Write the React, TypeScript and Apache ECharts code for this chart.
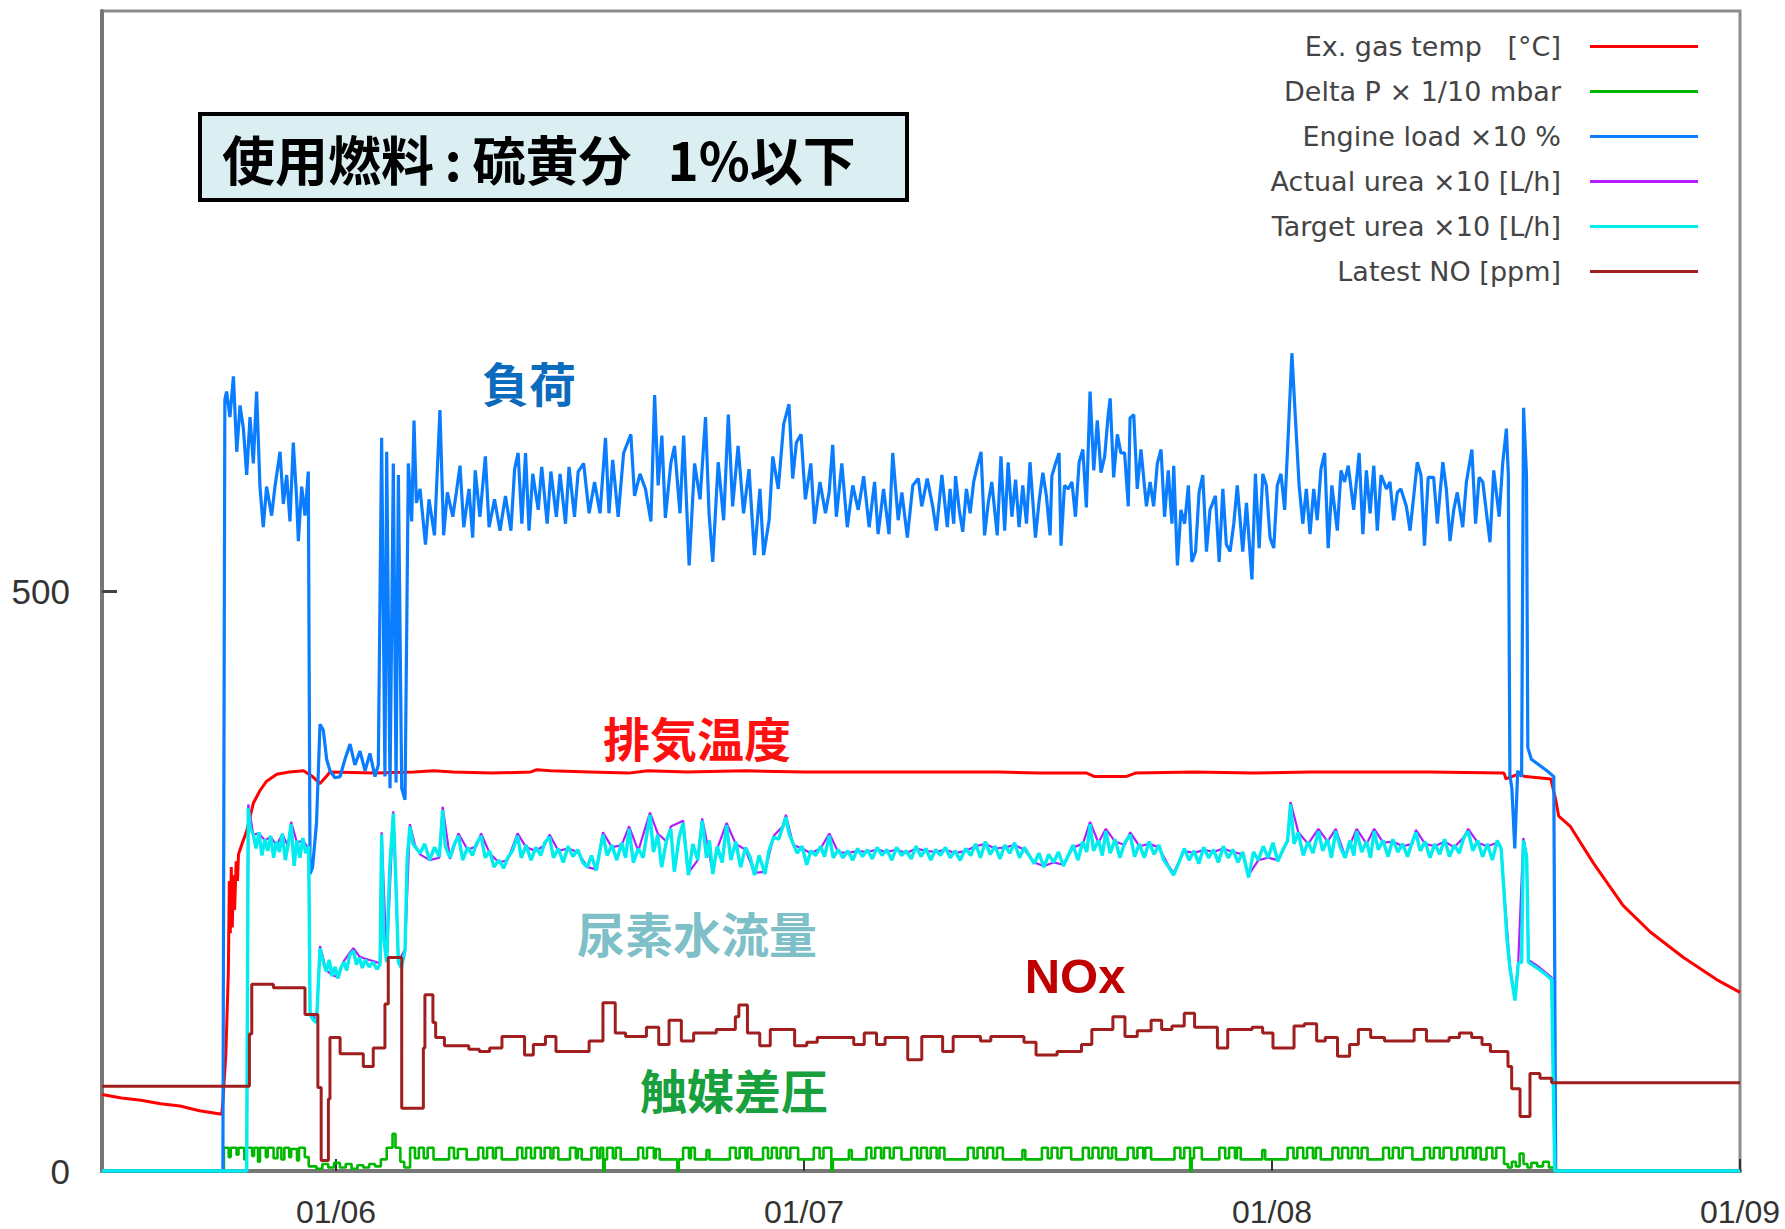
import React, { useEffect, useRef } from 'react';
import * as echarts from 'echarts';

// hours since 01/05 12:00
const xTickHours = [12, 36, 60, 84];
const xTickLabels = ['01/06', '01/07', '01/08', '01/09'];
const yLabelValues = [0, 500];
const yTickValues = [500];

const seriesNames = [
  'Ex. gas temp\u00a0\u00a0\u00a0[°C]',
  'Delta P\u00a0×\u00a01/10 mbar',
  'Engine load\u00a0×10\u00a0%',
  'Actual urea\u00a0×10 [L/h]',
  'Target urea\u00a0×10 [L/h]',
  'Latest NO [ppm]',
];
const seriesColors = ['#ff0000', '#00b800', '#0a7dff', '#b41cff', '#00ecef', '#a01e1e'];

const exGasTemp = [
  [0, 66], [1, 63], [2, 61], [3, 58], [4, 56], [5, 52], [6.14, 49], [6.2, 60], [6.35, 100], [6.48, 172],
  [6.53, 250], [6.58, 205], [6.63, 262], [6.68, 210], [6.74, 255], [6.8, 225], [6.88, 267], [6.95, 250],
  [7.0, 273], [7.2, 283], [7.42, 293], [7.6, 306], [7.76, 317], [8.1, 328], [8.44, 336], [8.96, 342],
  [9.6, 344], [10.33, 345], [10.8, 340], [11.18, 334], [11.5, 340], [11.69, 344], [14, 343], [16, 344],
  [17, 345], [18, 344], [20, 343], [22, 344], [22.3, 346], [23, 345], [25, 344], [27, 343], [28, 345],
  [30, 344], [33, 345], [36, 344], [40, 344], [43, 344], [46, 344], [48, 343], [50.5, 343], [50.9, 340],
  [52.5, 340], [53.0, 343], [56, 344], [59, 343], [62, 344], [65, 344], [68, 344], [71.9, 343], [72.0, 338],
  [72.3, 340], [72.6, 342], [73.0, 340], [74.3, 338], [74.55, 320], [74.7, 306], [75.3, 297], [76.5, 265],
  [78.0, 229], [79.4, 206], [81.1, 184], [82.8, 165], [84, 154],
];

const deltaP = [
  [0, 0], [6.2, 0], [6.25, 20], [6.5, 12], [6.6, 20], [6.9, 14], [7.0, 20], [7.3, 10], [7.4, 20], [7.7, 13],
  [7.8, 20], [8.0, 8], [8.1, 20], [8.4, 12], [8.5, 20], [8.8, 11], [9.0, 20], [9.2, 10], [9.35, 20], [9.6, 12],
  [9.7, 19], [10.0, 9], [10.1, 20], [10.4, 12], [10.6, 4], [11.0, 2], [11.3, 6], [11.6, 3], [11.9, 7], [12.2, 3],
  [12.5, 6], [12.8, 2], [13.1, 5], [13.4, 3], [13.7, 6], [14.0, 4], [14.3, 10], [14.6, 20], [14.9, 32], [15.05, 20],
  [15.3, 8], [15.5, 3], [15.8, 20], [16.05, 11], [16.25, 20], [16.5, 11], [16.7, 20], [17.0, 10],
  [17.8, 20], [18.05, 11], [18.25, 19], [18.7, 10],
  [19.3, 20], [19.55, 11], [19.75, 20], [20.05, 11], [20.2, 20], [20.5, 10],
  [21.3, 20], [21.55, 11], [21.75, 20], [22.0, 11], [22.2, 20], [22.5, 11], [22.7, 20], [23.0, 11], [23.15, 20], [23.4, 10],
  [24.0, 20], [24.3, 11], [24.4, 19], [24.6, 10],
  [25.1, 20], [25.4, 11], [25.55, 20], [25.7, 0], [25.78, 10], [25.9, 20], [26.2, 11], [26.35, 20], [26.6, 10],
  [27.5, 20], [27.75, 11], [27.95, 20], [28.3, 11], [28.4, 19], [28.6, 10],
  [29.5, 0], [29.58, 10], [29.8, 20], [30.1, 11], [30.2, 20], [30.4, 10],
  [31.0, 18], [31.15, 10],
  [32.2, 20], [32.5, 11], [32.7, 20], [33.0, 11], [33.1, 20], [33.3, 10],
  [33.9, 20], [34.15, 11], [34.35, 20], [34.6, 11], [34.8, 20], [35.1, 11], [35.3, 20], [35.7, 10],
  [36.5, 20], [36.8, 11], [37.0, 20], [37.4, 0], [37.48, 10],
  [38.3, 18], [38.45, 10],
  [39.2, 20], [39.45, 11], [39.65, 20], [39.95, 11], [40.1, 20], [40.4, 11], [40.6, 20], [41.0, 10],
  [41.5, 20], [41.8, 11], [42.0, 20], [42.3, 11], [42.5, 20], [42.8, 11], [42.95, 20], [43.2, 10],
  [44.4, 20], [44.7, 11], [44.9, 20], [45.2, 11], [45.4, 20], [45.7, 11], [45.9, 20], [46.2, 10],
  [47.2, 18], [47.35, 10],
  [48.2, 20], [48.5, 11], [48.7, 20], [49.0, 11], [49.2, 20], [49.7, 10],
  [50.3, 20], [50.6, 11], [50.8, 20], [51.1, 11], [51.3, 20], [51.6, 11], [51.8, 20], [52.0, 10],
  [52.6, 20], [52.9, 11], [53.1, 20], [53.4, 11], [53.5, 20], [53.8, 10],
  [55.0, 20], [55.3, 11], [55.5, 20], [55.8, 0], [55.88, 11], [56.0, 20], [56.4, 10],
  [57.3, 20], [57.6, 11], [57.8, 20], [58.1, 11], [58.2, 20], [58.4, 10],
  [59.5, 18], [59.65, 10],
  [60.8, 20], [61.1, 11], [61.3, 20], [61.6, 11], [61.8, 20], [62.1, 11], [62.25, 20], [62.5, 10],
  [63.1, 20], [63.4, 11], [63.6, 20], [63.9, 11], [64.1, 20], [64.4, 11], [64.6, 20], [64.9, 10],
  [65.7, 20], [66.0, 11], [66.2, 20], [66.5, 11], [66.7, 20], [67.2, 10],
  [67.8, 20], [68.1, 11], [68.3, 20], [68.6, 11], [68.8, 20], [69.2, 10],
  [69.5, 20], [69.8, 11], [70.0, 20], [70.3, 11], [70.45, 20], [70.7, 10],
  [71.0, 20], [71.3, 11], [71.5, 20], [71.9, 6],
  [72.1, 3], [72.3, 8], [72.5, 4], [72.7, 15], [72.9, 6], [73.1, 3], [73.3, 7], [73.6, 4], [73.9, 8], [74.2, 3],
  [74.5, 0], [84, 0],
];

const engineLoad = [
  [0, 0], [6.2, 0], [6.3, 665], [6.39, 672], [6.56, 650], [6.74, 685], [6.91, 620], [7.08, 660], [7.25, 640],
  [7.42, 600], [7.59, 650], [7.76, 610], [7.93, 672], [8.1, 590], [8.27, 555], [8.44, 590], [8.7, 565],
  [8.87, 590], [9.13, 620], [9.3, 575], [9.47, 600], [9.64, 560], [9.81, 628], [9.98, 580], [10.07, 543],
  [10.24, 590], [10.41, 565], [10.58, 603], [10.67, 256], [10.8, 262], [11.0, 300], [11.18, 385], [11.35, 380],
  [11.52, 355], [11.69, 345], [11.95, 339], [12.21, 340], [12.46, 355], [12.72, 368], [12.97, 350], [13.23, 362],
  [13.49, 345], [13.74, 360], [14.0, 340], [14.17, 350], [14.34, 632], [14.51, 340], [14.6, 620], [14.77, 330],
  [14.94, 610], [15.08, 335], [15.2, 600], [15.37, 330], [15.54, 320], [15.71, 610], [15.88, 560], [16.0, 647],
  [16.12, 576], [16.31, 588], [16.59, 540], [16.77, 579], [17.05, 548], [17.33, 656], [17.52, 548], [17.71, 585],
  [17.99, 564], [18.17, 585], [18.36, 608], [18.55, 555], [18.82, 588], [19.01, 546], [19.14, 604], [19.38, 564],
  [19.66, 616], [19.85, 555], [20.13, 579], [20.41, 552], [20.69, 582], [20.97, 552], [21.16, 605], [21.34, 619],
  [21.53, 558], [21.72, 619], [21.9, 552], [22.09, 601], [22.37, 570], [22.55, 607], [22.83, 558], [23.02, 603],
  [23.3, 564], [23.49, 601], [23.77, 558], [23.95, 607], [24.23, 564], [24.42, 603], [24.7, 610], [24.98, 567],
  [25.26, 594], [25.54, 567], [25.82, 632], [26.0, 567], [26.19, 613], [26.47, 564], [26.75, 619], [27.12, 635],
  [27.31, 582], [27.59, 601], [27.87, 588], [28.15, 560], [28.34, 669], [28.52, 591], [28.71, 634], [28.89, 563],
  [29.17, 610], [29.36, 625], [29.64, 567], [29.83, 634], [30.11, 522], [30.39, 610], [30.67, 579], [30.95, 650],
  [31.13, 567], [31.32, 525], [31.6, 611], [31.88, 561], [32.12, 652], [32.34, 573], [32.62, 625], [32.9, 567],
  [33.18, 605], [33.46, 531], [33.74, 588], [33.93, 531], [34.21, 561], [34.4, 616], [34.68, 588], [34.96, 644],
  [35.23, 661], [35.42, 597], [35.61, 628], [35.85, 635], [36.07, 579], [36.35, 610], [36.54, 558], [36.82, 594],
  [37.1, 567], [37.29, 585], [37.47, 626], [37.66, 564], [37.94, 610], [38.22, 555], [38.5, 591], [38.78, 570],
  [39.06, 599], [39.34, 555], [39.62, 594], [39.8, 549], [40.08, 588], [40.36, 549], [40.55, 619], [40.83, 561],
  [41.02, 585], [41.3, 546], [41.58, 591], [41.86, 597], [42.04, 573], [42.32, 597], [42.6, 573], [42.79, 552],
  [43.07, 600], [43.35, 555], [43.49, 588], [43.68, 558], [43.77, 599], [43.96, 570], [44.14, 551], [44.33, 588],
  [44.52, 567], [44.7, 594], [44.89, 608], [45.08, 620], [45.26, 548], [45.45, 576], [45.63, 594], [45.91, 548],
  [46.1, 616], [46.29, 552], [46.47, 611], [46.66, 564], [46.85, 596], [47.03, 555], [47.22, 591], [47.41, 558],
  [47.59, 611], [47.87, 546], [48.06, 578], [48.25, 602], [48.43, 582], [48.62, 548], [48.71, 599], [48.9, 610],
  [49.08, 619], [49.18, 539], [49.36, 591], [49.55, 588], [49.74, 594], [49.92, 564], [50.11, 611], [50.3, 622],
  [50.48, 572], [50.67, 672], [50.86, 604], [51.04, 647], [51.23, 602], [51.42, 616], [51.6, 652], [51.7, 666],
  [51.88, 598], [52.07, 635], [52.25, 619], [52.44, 619], [52.63, 573], [52.72, 649], [52.91, 652], [53.09, 588],
  [53.28, 622], [53.56, 573], [53.75, 594], [53.93, 573], [54.12, 610], [54.31, 622], [54.49, 564], [54.68, 604],
  [54.87, 558], [54.96, 608], [55.15, 522], [55.33, 570], [55.52, 558], [55.71, 591], [55.89, 525], [56.08, 534],
  [56.26, 585], [56.45, 600], [56.64, 534], [56.82, 570], [57.1, 582], [57.29, 525], [57.48, 588], [57.66, 540],
  [57.85, 534], [58.04, 558], [58.22, 591], [58.5, 534], [58.69, 576], [58.97, 510], [59.15, 601], [59.34, 537],
  [59.53, 601], [59.71, 591], [59.9, 546], [60.09, 537], [60.27, 591], [60.46, 601], [60.65, 570], [60.83, 634],
  [61.02, 705], [61.2, 649], [61.39, 591], [61.58, 558], [61.76, 588], [61.95, 549], [62.14, 588], [62.32, 561],
  [62.51, 605], [62.7, 619], [62.88, 537], [63.07, 591], [63.35, 552], [63.54, 604], [63.72, 594], [63.91, 608],
  [64.19, 570], [64.47, 619], [64.66, 549], [64.84, 604], [65.03, 567], [65.22, 608], [65.4, 552], [65.59, 600],
  [65.87, 588], [66.05, 594], [66.24, 561], [66.43, 585], [66.61, 588], [66.89, 573], [67.08, 552], [67.27, 582],
  [67.45, 611], [67.64, 600], [67.82, 539], [68.01, 598], [68.29, 598], [68.48, 558], [68.76, 611], [68.94, 588],
  [69.13, 543], [69.32, 570], [69.5, 585], [69.78, 555], [69.97, 594], [70.25, 622], [70.44, 558], [70.62, 598],
  [70.81, 594], [71.0, 567], [71.18, 542], [71.37, 604], [71.65, 564], [71.83, 610], [72.02, 640], [72.12, 600],
  [72.2, 341], [72.3, 330], [72.45, 278], [72.6, 345], [72.8, 340], [72.9, 658], [73.05, 600], [73.12, 365],
  [73.3, 355], [73.7, 350], [74.1, 345], [74.45, 340], [74.55, 0], [84, 0],
];

const actualUrea = [
  [0, 0], [7.42, 0], [7.5, 316], [7.76, 290], [8.05, 291], [8.35, 285], [8.65, 288], [8.95, 281], [9.25, 290],
  [9.55, 280], [9.7, 301], [10.0, 283], [10.3, 285], [10.6, 278], [10.67, 137], [11.0, 130], [11.18, 194],
  [11.5, 173], [11.8, 169], [12.1, 167], [12.4, 181], [12.7, 188], [12.89, 192], [13.2, 185], [13.5, 183],
  [13.9, 181], [14.26, 179], [14.34, 292], [14.6, 181], [14.94, 310], [15.2, 181], [15.54, 191], [15.79, 299],
  [16.05, 281], [16.31, 273], [16.8, 268], [17.3, 270], [17.47, 314], [17.85, 269], [18.28, 291], [18.75, 277],
  [19.2, 280], [19.44, 291], [19.88, 274], [20.35, 266], [20.8, 268], [21.31, 291], [21.75, 279], [22.25, 276],
  [22.7, 281], [22.95, 290], [23.4, 276], [23.9, 278], [24.4, 275], [24.89, 262], [25.35, 260], [25.69, 292],
  [26.15, 279], [26.65, 281], [27.03, 297], [27.5, 276], [28.1, 309], [28.5, 291], [28.95, 284], [29.17, 297],
  [29.8, 302], [30.07, 257], [30.55, 268], [30.78, 304], [31.32, 258], [31.55, 278], [32.03, 300], [32.5, 282],
  [33.0, 277], [33.46, 257], [34.0, 258], [34.45, 289], [34.9, 297], [35.07, 307], [35.45, 281], [35.9, 278],
  [36.35, 274], [36.85, 278], [37.3, 291], [37.75, 275], [38.25, 274], [38.75, 276], [39.25, 275], [39.75, 277],
  [40.25, 275], [40.75, 277], [41.25, 274], [41.75, 278], [42.25, 276], [42.75, 275], [43.25, 277], [43.75, 274],
  [44.3, 276], [44.8, 280], [45.3, 282], [45.8, 278], [46.3, 279], [46.8, 281], [47.3, 277], [47.8, 266],
  [48.3, 263], [48.8, 266], [49.3, 264], [49.8, 279], [50.3, 282], [50.67, 301], [51.1, 283], [51.48, 295],
  [51.95, 284], [52.45, 281], [52.73, 292], [53.2, 280], [53.7, 282], [54.2, 279], [54.7, 263], [54.95, 257],
  [55.5, 276], [56.0, 274], [56.5, 277], [57.0, 275], [57.5, 278], [58.0, 275], [58.5, 273], [58.8, 255],
  [59.3, 268], [59.8, 270], [60.3, 268], [60.8, 284], [60.95, 318], [61.35, 292], [61.85, 282], [62.38, 295],
  [62.85, 284], [63.27, 295], [63.75, 271], [64.34, 295], [64.85, 282], [65.24, 295], [65.7, 283], [66.2, 284],
  [66.7, 280], [67.2, 282], [67.38, 294], [67.85, 282], [68.35, 280], [68.85, 284], [69.35, 279], [69.85, 288],
  [70.06, 295], [70.55, 283], [71.05, 280], [71.55, 283], [71.75, 278], [71.9, 242], [72.2, 177], [72.46, 149],
  [72.63, 181], [72.89, 287], [73.06, 272], [73.15, 182], [73.6, 177], [74.34, 167], [74.5, 0], [84, 0],
];

const targetUrea = [
  [0, 0], [7.42, 0], [7.5, 313], [7.6, 296], [7.76, 290], [7.9, 278], [8.05, 292], [8.2, 272], [8.35, 286],
  [8.5, 276], [8.65, 289], [8.8, 270], [8.95, 284], [9.1, 275], [9.25, 291], [9.4, 268], [9.55, 282], [9.7, 299],
  [9.85, 263], [10.0, 285], [10.15, 270], [10.3, 287], [10.45, 274], [10.6, 280], [10.67, 135], [10.84, 130],
  [11.0, 128], [11.18, 192], [11.35, 180], [11.5, 172], [11.65, 182], [11.8, 168], [11.95, 176], [12.1, 166],
  [12.25, 175], [12.4, 180], [12.55, 173], [12.7, 186], [12.89, 190], [13.05, 178], [13.2, 184], [13.35, 175],
  [13.5, 182], [13.7, 176], [13.9, 180], [14.1, 174], [14.26, 178], [14.34, 290], [14.45, 200], [14.6, 180],
  [14.75, 260], [14.94, 308], [15.05, 260], [15.2, 180], [15.35, 175], [15.54, 190], [15.65, 270], [15.79, 297],
  [15.95, 282], [16.31, 274], [16.55, 282], [16.8, 268], [17.05, 279], [17.3, 271], [17.47, 311], [17.6, 280],
  [17.85, 270], [18.05, 281], [18.28, 289], [18.5, 268], [18.75, 279], [19.0, 272], [19.2, 282], [19.44, 289],
  [19.65, 270], [19.88, 276], [20.1, 262], [20.35, 268], [20.6, 261], [20.8, 270], [21.05, 276], [21.31, 289],
  [21.5, 270], [21.75, 281], [22.0, 268], [22.25, 279], [22.5, 272], [22.7, 283], [22.95, 288], [23.15, 270],
  [23.4, 278], [23.65, 266], [23.9, 280], [24.15, 271], [24.4, 277], [24.65, 266], [24.89, 262], [25.1, 272],
  [25.35, 259], [25.69, 290], [25.9, 272], [26.15, 281], [26.4, 268], [26.65, 283], [26.85, 270], [27.03, 295],
  [27.25, 266], [27.5, 278], [27.75, 270], [28.1, 307], [28.28, 275], [28.5, 290], [28.7, 262], [28.95, 285],
  [29.17, 295], [29.35, 258], [29.6, 288], [29.8, 300], [30.07, 255], [30.3, 282], [30.55, 268], [30.78, 302],
  [31.0, 270], [31.15, 285], [31.32, 256], [31.55, 280], [31.8, 266], [32.03, 298], [32.25, 268], [32.5, 284],
  [32.75, 262], [33.0, 279], [33.25, 270], [33.46, 255], [33.7, 272], [34.0, 256], [34.2, 276], [34.45, 288],
  [34.7, 286], [34.9, 296], [35.07, 305], [35.25, 290], [35.45, 282], [35.65, 274], [35.9, 280], [36.14, 264],
  [36.35, 276], [36.6, 272], [36.85, 280], [37.05, 271], [37.3, 289], [37.5, 270], [37.75, 277], [38.0, 270],
  [38.25, 276], [38.5, 268], [38.75, 278], [39.0, 271], [39.25, 277], [39.5, 269], [39.75, 279], [40.0, 272],
  [40.25, 277], [40.5, 268], [40.75, 279], [41.0, 272], [41.25, 276], [41.5, 269], [41.75, 280], [42.0, 271],
  [42.25, 278], [42.5, 268], [42.75, 277], [43.0, 272], [43.25, 279], [43.5, 270], [43.75, 276], [44.0, 268],
  [44.3, 278], [44.55, 272], [44.8, 282], [45.05, 270], [45.3, 284], [45.55, 273], [45.8, 280], [46.05, 269],
  [46.3, 281], [46.55, 274], [46.8, 283], [47.05, 270], [47.3, 279], [47.55, 272], [47.8, 265], [48.05, 274],
  [48.3, 262], [48.55, 273], [48.8, 266], [49.05, 275], [49.3, 263], [49.55, 272], [49.8, 281], [50.05, 268],
  [50.3, 284], [50.5, 275], [50.67, 299], [50.85, 276], [51.1, 285], [51.3, 272], [51.48, 293], [51.7, 274],
  [51.95, 286], [52.2, 270], [52.45, 283], [52.73, 290], [52.95, 271], [53.2, 282], [53.45, 270], [53.7, 284],
  [53.95, 273], [54.2, 281], [54.45, 268], [54.7, 262], [54.95, 255], [55.23, 266], [55.5, 278], [55.75, 268],
  [56.0, 276], [56.25, 265], [56.5, 279], [56.75, 270], [57.0, 277], [57.25, 266], [57.5, 280], [57.75, 270],
  [58.0, 277], [58.25, 266], [58.5, 275], [58.8, 253], [59.05, 275], [59.3, 268], [59.55, 280], [59.8, 270],
  [60.05, 283], [60.3, 267], [60.59, 278], [60.8, 285], [60.95, 316], [61.13, 282], [61.35, 292], [61.6, 272],
  [61.85, 284], [62.1, 274], [62.38, 293], [62.6, 276], [62.85, 286], [63.05, 270], [63.27, 293], [63.5, 279],
  [63.75, 270], [64.0, 285], [64.2, 272], [64.34, 293], [64.6, 275], [64.85, 284], [65.05, 270], [65.24, 293],
  [65.45, 277], [65.7, 285], [65.95, 271], [66.2, 286], [66.45, 275], [66.7, 282], [66.95, 271], [67.2, 284],
  [67.38, 292], [67.6, 276], [67.85, 284], [68.1, 270], [68.35, 282], [68.6, 273], [68.85, 286], [69.1, 271],
  [69.35, 281], [69.6, 274], [69.85, 288], [70.06, 293], [70.3, 276], [70.55, 285], [70.8, 271], [71.05, 282],
  [71.3, 268], [71.55, 285], [71.75, 278], [71.9, 240], [72.05, 200], [72.2, 175], [72.46, 147], [72.63, 179],
  [72.8, 180], [72.89, 285], [73.06, 270], [73.15, 180], [73.6, 175], [74.0, 170], [74.34, 165], [74.5, 0], [84, 0],
];

const latestNO = [
  [0, 73], [7.56, 118], [7.68, 161], [8.79, 158], [10.41, 135], [11.07, 72], [11.24, 9], [11.61, 62], [11.69, 115],
  [12.21, 101], [13.4, 90], [13.91, 106], [14.51, 144], [14.68, 184], [15.37, 54], [16.48, 106], [16.56, 152],
  [16.97, 128], [17.11, 115], [17.56, 108], [18.81, 105], [19.35, 103], [19.88, 106], [20.51, 116], [21.67, 100],
  [22.12, 109], [22.74, 116], [23.28, 103], [24.98, 112], [25.69, 145], [26.32, 119], [26.85, 116], [27.92, 124],
  [28.55, 109], [29.08, 130], [29.71, 112], [30.34, 119], [31.5, 122], [32.48, 133], [32.66, 143], [33.1, 119],
  [33.73, 108], [34.27, 122], [35.52, 108], [36.14, 111], [36.68, 115], [38.55, 109], [39.09, 119], [39.72, 109],
  [40.16, 115], [41.32, 96], [42.04, 116], [43.11, 103], [43.65, 116], [45.05, 112], [45.58, 116], [47.28, 111],
  [47.9, 100], [48.98, 103], [50.23, 109], [50.76, 122], [51.84, 133], [52.46, 116], [53.09, 121], [53.8, 130],
  [54.34, 122], [54.87, 125], [55.5, 136], [56.03, 124], [57.2, 106], [57.73, 122], [58.98, 124], [59.52, 119],
  [60.05, 106], [61.13, 125], [61.66, 127], [62.29, 112], [62.73, 115], [63.36, 99], [63.98, 109], [64.43, 122],
  [65.06, 115], [65.77, 112], [67.29, 122], [67.92, 112], [69.08, 115], [69.61, 119], [70.24, 115], [70.77, 109],
  [71.2, 103], [72.1, 90], [72.29, 71], [72.72, 47], [73.23, 84], [73.74, 80], [74.34, 76], [84, 76],
];

const seriesData = [exGasTemp, deltaP, engineLoad, actualUrea, targetUrea, latestNO];
const seriesSteps: (false | 'end')[] = [false, 'end', false, false, false, 'end'];
const seriesWidths = [3, 2.6, 3.2, 2.2, 3.4, 3];

const CJK = '"Noto Sans CJK JP", "Noto Sans CJK SC", sans-serif';

export default function App() {
  const ref = useRef<HTMLDivElement>(null);
  useEffect(() => {
    const chart = echarts.init(ref.current!, null, { renderer: 'svg' });
    const label = (text: string, x: number, y: number, color: string, size: number, family = CJK) => ({
      type: 'text',
      x,
      y,
      z: 100,
      style: {
        text,
        fill: color,
        fontSize: size,
        fontWeight: 'bold',
        fontFamily: family,
        align: 'center',
        verticalAlign: 'middle',
        textAlign: 'center',
        textVerticalAlign: 'middle',
      },
    });
    chart.setOption({
      animation: false,
      backgroundColor: '#ffffff',
      grid: {
        left: 102,
        right: 45,
        top: 11,
        bottom: 58,
        show: true,
        borderColor: '#8c8c8c',
        borderWidth: 3,
        containLabel: false,
      },
      legend: {
        data: seriesNames,
        orient: 'vertical',
        align: 'right',
        right: 82,
        top: 28,
        icon: 'rect',
        itemWidth: 108,
        itemHeight: 3,
        itemGap: 18,
        selectedMode: false,
        textStyle: {
          fontSize: 27,
          fontFamily: '"DejaVu Sans", sans-serif',
          color: '#444',
          padding: [0, 24, 0, 0],
        },
      },
      xAxis: {
        type: 'value',
        min: 0,
        max: 84,
        axisLine: { show: true, onZero: false, lineStyle: { color: '#777', width: 4 } },
        axisTick: {
          show: true,
          inside: true,
          length: 12,
          customValues: xTickHours,
          lineStyle: { color: '#333', width: 2 },
        },
        axisLabel: {
          customValues: xTickHours,
          formatter: (v: number) => xTickLabels[xTickHours.indexOf(v)] ?? '',
          fontSize: 32,
          color: '#333',
          fontFamily: '"Liberation Sans", Arial, sans-serif',
          margin: 25,
        },
        splitLine: { show: false },
      },
      yAxis: {
        type: 'value',
        min: 0,
        max: 1000,
        interval: 500,
        axisLine: { show: true, onZero: false, lineStyle: { color: '#777', width: 4 } },
        axisTick: {
          show: true,
          inside: true,
          length: 15,
          customValues: yTickValues,
          lineStyle: { color: '#444', width: 3 },
        },
        axisLabel: {
          customValues: yLabelValues,
          fontSize: 35,
          color: '#333',
          fontFamily: '"Liberation Sans", Arial, sans-serif',
          margin: 32,
        },
        splitLine: { show: false },
      },
      series: seriesNames.map((name, i) => ({
        name,
        type: 'line',
        data: seriesData[i],
        step: seriesSteps[i],
        symbol: 'none',
        showSymbol: false,
        lineStyle: { color: seriesColors[i], width: seriesWidths[i] },
        itemStyle: { color: seriesColors[i] },
        emphasis: { disabled: true },
      })),
      graphic: [
        {
          type: 'rect',
          x: 200,
          y: 114,
          z: 100,
          shape: { x: 0, y: 0, width: 707, height: 86 },
          style: { fill: '#dbeef1', stroke: '#000000', lineWidth: 4 },
        },
        {
          type: 'text',
          x: 222,
          y: 158,
          z: 101,
          style: {
            text: '使用燃料\u2009:\u2009硫黄分\u00a0\u00a0\u00a01%以下',
            fill: '#000000',
            fontSize: 53,
            fontWeight: 'bold',
            fontFamily: CJK,
            align: 'left',
            verticalAlign: 'middle',
            textAlign: 'left',
            textVerticalAlign: 'middle',
          },
        },
        label('負荷', 529, 381, '#0b6bbd', 47),
        label('排気温度', 697, 736, '#ff1010', 47),
        label('尿素水流量', 697, 932, '#7ebfc8', 48),
        label('NOx', 1075, 976, '#c00000', 49, '"Liberation Sans", Arial, sans-serif'),
        label('触媒差圧', 734, 1088, '#17a03d', 47),
      ],
    });
    return () => chart.dispose();
  }, []);
  return (
    <div
      ref={ref}
      style={{ position: 'absolute', left: 0, top: 0, width: 1785, height: 1229, background: '#fff' }}
    />
  );
}
